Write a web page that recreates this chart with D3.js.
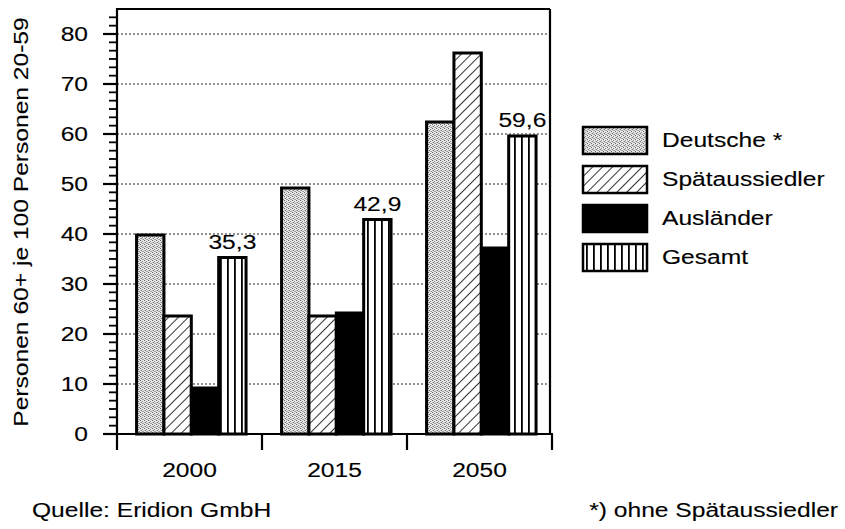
<!DOCTYPE html>
<html><head><meta charset="utf-8">
<script src="https://cdn.jsdelivr.net/npm/d3@7"></script>
<style>body{margin:0;background:#fff}svg{display:block}text{font-family:"Liberation Sans",Arial,sans-serif;fill:#000;stroke:#000;stroke-width:0.12px}</style>
</head><body>
<svg id="c" width="845" height="529"></svg>
<script>
const years = ["2000", "2015", "2050"];
const series = ["Deutsche *", "Spätaussiedler", "Ausländer", "Gesamt"];
const deutsche = [39.8, 49.2, 62.4];
const spaetaussiedler = [23.6, 23.6, 76.2];
const auslaender = [9.2, 24.2, 37.2];
const gesamt = [35.3, 42.9, 59.6];
const valueLabels = ["35,3", "42,9", "59,6"];
const yTicks = [0, 10, 20, 30, 40, 50, 60, 70, 80];
const yTitle = "Personen 60+ je 100 Personen 20-59";
const source = "Quelle: Eridion GmbH";
const footnote = "*) ohne Spätaussiedler";

const values = [deutsche, spaetaussiedler, auslaender, gesamt];
const svg = d3.select("#c");
const SX = 1.23, FS = "20px";

const defs = svg.append("defs");
// stipple
const p1 = defs.append("pattern").attr("id","pStip").attr("patternUnits","userSpaceOnUse").attr("width",4).attr("height",4);
p1.append("rect").attr("width",4).attr("height",4).attr("fill","#e6e6e6");
[[0,0,"#666"],[2,1,"#888"],[1,2,"#777"],[3,3,"#999"],[2,3,"#aaa"],[0,2,"#bbb"]].forEach(([px,py,c])=>p1.append("rect").attr("x",px).attr("y",py).attr("width",1).attr("height",1).attr("fill",c));
// hatch
const p2 = defs.append("pattern").attr("id","pHatch").attr("patternUnits","userSpaceOnUse").attr("width",7).attr("height",7).attr("patternTransform","rotate(45)");
p2.append("rect").attr("width",7).attr("height",7).attr("fill","#fff");
p2.append("line").attr("x1",0).attr("y1",0).attr("x2",0).attr("y2",7).attr("stroke","#000").attr("stroke-width",1.6);
// vertical lines
const p3 = defs.append("pattern").attr("id","pVert").attr("patternUnits","userSpaceOnUse").attr("width",7).attr("height",7);
p3.append("rect").attr("width",7).attr("height",7).attr("fill","#fff");
p3.append("rect").attr("x",3).attr("width",1.8).attr("height",7).attr("fill","#000");
const fills = ["url(#pStip)","url(#pHatch)","#000","url(#pVert)"];

const pL = 117, pR = 550, pT = 9, pB = 434;
const x = d3.scaleBand().domain(years).range([pL, 552]).padding(0);
const y = d3.scaleLinear().domain([0, 85]).range([pB, pT]);
const bw = x.bandwidth();
const xs = d3.scaleBand().domain(series).range([bw*0.135, bw*0.89]).padding(0);

// gridlines
svg.append("g").selectAll("line").data(yTicks.filter(d=>d>0)).join("line")
  .attr("x1",pL).attr("x2",pR).attr("y1",d=>y(d)).attr("y2",d=>y(d))
  .attr("stroke","#222").attr("stroke-width",1).attr("stroke-dasharray","2,2");

// bars
const bars = [];
years.forEach((yr,i)=>series.forEach((s,j)=>bars.push({yr,s,v:values[j][i],j})));
svg.append("g").selectAll("rect").data(bars).join("rect")
  .attr("x",d=>x(d.yr)+xs(d.s)).attr("width",xs.bandwidth())
  .attr("y",d=>y(d.v)).attr("height",d=>y(0)-y(d.v))
  .attr("fill",d=>fills[d.j]).attr("stroke","#000").attr("stroke-width",3);

// value labels
svg.append("g").selectAll("text").data(years).join("text")
  .attr("transform",(d,i)=>`translate(${x(d)+xs("Gesamt")+xs.bandwidth()/2},${y(gesamt[i])-9}) scale(${SX},1)`)
  .attr("text-anchor","middle").style("font-size",FS).text((d,i)=>valueLabels[i]);

// frame
const fr = svg.append("g").attr("stroke","#000").attr("stroke-width",2.2).attr("fill","none");
fr.append("line").attr("x1",pL).attr("x2",pL).attr("y1",pT-1).attr("y2",pB+1);
fr.append("line").attr("x1",pL).attr("x2",pR).attr("y1",pT).attr("y2",pT);
fr.append("line").attr("x1",pR).attr("x2",pR).attr("y1",pT).attr("y2",pB);
fr.append("line").attr("x1",pL).attr("x2",553).attr("y1",pB).attr("y2",pB);

// y axis ticks
const minor = d3.range(0, 85, 10/6).filter(v=>Math.abs(v/10-Math.round(v/10))>0.01);
fr.selectAll(".mi").data(minor).join("line").attr("x1",pL-8).attr("x2",pL).attr("y1",d=>y(d)).attr("y2",d=>y(d)).attr("stroke-width",1.8);
fr.selectAll(".ma").data(yTicks).join("line").attr("x1",pL-14).attr("x2",pL).attr("y1",d=>y(d)).attr("y2",d=>y(d)).attr("stroke-width",2.2);
svg.append("g").selectAll("text").data(yTicks).join("text")
  .attr("transform",d=>`translate(88,${y(d)+7}) scale(${SX},1)`)
  .attr("text-anchor","end").style("font-size",FS).text(d=>d);

// x ticks
const edges = years.map(d=>x(d)).concat([x(years[2])+bw]);
fr.selectAll(".xt").data(edges).join("line").attr("x1",d=>d).attr("x2",d=>d).attr("y1",pB).attr("y2",pB+16);
svg.append("g").selectAll("text").data(years).join("text")
  .attr("transform",d=>`translate(${x(d)+bw/2},477) scale(${SX},1)`)
  .attr("text-anchor","middle").style("font-size",FS).text(d=>d);

// y title
svg.append("text").attr("transform",`translate(28,222) rotate(-90) scale(${SX},1)`)
  .attr("text-anchor","middle").style("font-size",FS).text(yTitle);

// legend
const lg = svg.append("g").selectAll("g").data(series).join("g")
  .attr("transform",(d,i)=>`translate(583,${127+i*39})`);
lg.append("rect").attr("width",64).attr("height",27).attr("fill",(d,i)=>fills[i]).attr("stroke","#000").attr("stroke-width",2.5);
lg.append("text").attr("transform",`translate(79,20) scale(${SX},1)`).style("font-size",FS).text(d=>d);

// footer
svg.append("text").attr("transform",`translate(32,517) scale(${SX},1)`).style("font-size",FS).text(source);
svg.append("text").attr("transform",`translate(838,517) scale(${SX},1)`).attr("text-anchor","end").style("font-size",FS).text(footnote);
</script>
</body></html>
